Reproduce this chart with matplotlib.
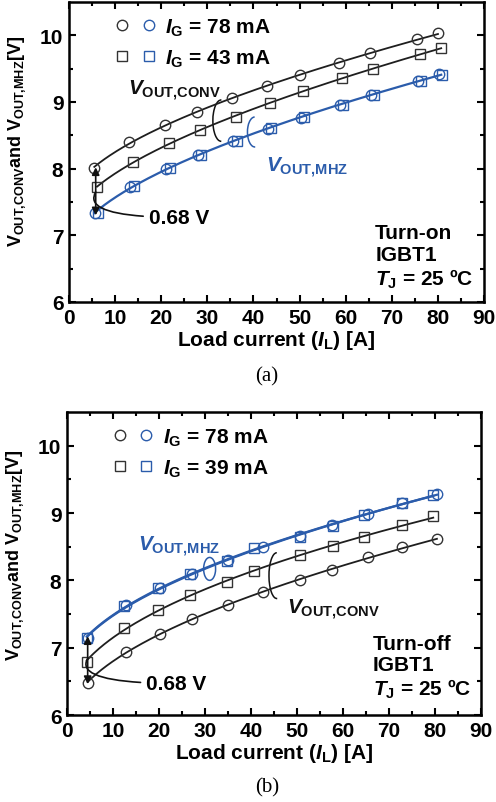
import numpy as np
import matplotlib
matplotlib.use('Agg')
from matplotlib import pyplot as plt
from matplotlib.patches import Arc
from matplotlib.legend_handler import HandlerTuple

plt.rcParams['font.family'] = 'Liberation Sans'
plt.rcParams['font.weight'] = 'bold'
plt.rcParams['mathtext.fontset'] = 'custom'
plt.rcParams['mathtext.rm'] = 'Liberation Sans:bold'
plt.rcParams['mathtext.it'] = 'Liberation Sans:italic:bold'
plt.rcParams['mathtext.bf'] = 'Liberation Sans:bold'

BLUE = '#2b5cab'
DARK = '#1e1e1e'
FS = 15

# (a) turn-on
on_il_78 = [5.5, 13.1, 20.8, 27.7, 35.3, 43.0, 50.1, 58.6, 65.3, 75.5, 80.0]
on_conv_78 = [8.01, 8.40, 8.65, 8.85, 9.06, 9.24, 9.40, 9.58, 9.73, 9.94, 10.03]
on_il_43 = [6.1, 13.9, 21.7, 28.4, 36.2, 43.6, 50.8, 59.2, 65.9, 76.1, 80.7]
on_conv_43 = [7.72, 8.10, 8.39, 8.58, 8.78, 8.98, 9.16, 9.36, 9.49, 9.72, 9.81]
on_mhz_78 = [7.33, 7.73, 8.00, 8.20, 8.41, 8.60, 8.76, 8.95, 9.10, 9.31, 9.42]
on_mhz_43 = [7.34, 7.74, 8.01, 8.21, 8.42, 8.61, 8.77, 8.96, 9.11, 9.32, 9.41]

# (b) turn-off
off_il_78 = [4.5, 12.8, 20.2, 27.2, 35.0, 42.6, 50.7, 57.6, 65.4, 72.8, 80.4]
off_conv_78 = [6.48, 6.94, 7.21, 7.42, 7.63, 7.83, 8.01, 8.16, 8.34, 8.49, 8.61]
off_il_39 = [4.3, 12.4, 19.8, 26.7, 34.7, 40.7, 50.6, 57.8, 64.6, 72.8, 79.6]
off_conv_39 = [6.79, 7.29, 7.56, 7.78, 7.98, 8.14, 8.37, 8.51, 8.64, 8.82, 8.95]
off_mhz_78 = [7.15, 7.63, 7.89, 8.09, 8.30, 8.49, 8.66, 8.82, 8.98, 9.15, 9.28]
off_mhz_39 = [7.14, 7.62, 7.89, 8.09, 8.29, 8.48, 8.65, 8.81, 8.97, 9.15, 9.27]


def fit(x, y):
    x = np.asarray(x, float)
    A = np.column_stack([np.ones_like(x), np.sqrt(x), x])
    c = np.linalg.lstsq(A, np.asarray(y, float), rcond=None)[0]
    xs = np.linspace(x.min(), x.max(), 200)
    return xs, c[0] + c[1] * np.sqrt(xs) + c[2] * xs


def series(ax, x, y, marker, color, offset=0.0, line=True):
    if line:
        xs, ys = fit(x, y)
        ax.plot(xs, ys, color=color, lw=1.3 if color == DARK else 1.6, zorder=2)
    h, = ax.plot(np.asarray(x) + offset, y, ls='none', marker=marker, ms=7.5 if marker == 'o' else 7,
                 mfc='none', mec=color if color == BLUE else '#333333', mew=1.0, zorder=3)
    return h


def style(ax, label_y):
    ax.set_xlim(0, 90)
    ax.set_ylim(6, 10.5)
    ax.set_xticks(range(0, 91, 10))
    ax.set_xticks(range(5, 90, 10), minor=True)
    ax.set_yticks([6, 7, 8, 9, 10])
    ax.set_yticks([6.5, 7.5, 8.5, 9.5], minor=True)
    ax.tick_params(which='both', direction='in', top=True, right=True, width=1.5,
                   labelsize=FS, pad=4)
    ax.tick_params(which='major', length=5)
    ax.tick_params(which='minor', length=3)
    for s in ax.spines.values():
        s.set_linewidth(1.8)
    ax.set_xlabel(r'Load current ($I_{\mathrm{L}}$) [A]', fontsize=FS, fontweight='bold', labelpad=1)
    ax.set_ylabel(r'$\mathrm{V}_{\mathrm{OUT{,}CONV}}$and $\mathrm{V}_{\mathrm{OUT{,}MHZ}}$[V]',
                  fontsize=13, fontweight='bold')
    ax.yaxis.set_label_coords(-0.098, label_y)


def legend(ax, hs, labels):
    ax.legend(hs, labels, handler_map={tuple: HandlerTuple(ndivide=None, pad=0.5)},
              loc='upper left', frameon=False, fontsize=FS, handlelength=2.0,
              handletextpad=0.4, labelspacing=0.45, borderaxespad=0.3,
              bbox_to_anchor=(0.075, 1.0))


fig = plt.figure(figsize=(4.96, 8.03), dpi=100)

# ---- (a)
ax1 = fig.add_axes([0.139, 0.6227, 0.837, 0.3736])
c1 = series(ax1, on_il_78, on_conv_78, 'o', DARK)
s1 = series(ax1, on_il_43, on_conv_43, 's', DARK)
xs, ys = fit(on_il_78 + on_il_43, on_mhz_78 + on_mhz_43)
ax1.plot(xs, ys, color=BLUE, lw=1.6, zorder=2)
c2 = series(ax1, on_il_78, on_mhz_78, 'o', BLUE, offset=0.2, line=False)
s2 = series(ax1, on_il_43, on_mhz_43, 's', BLUE, offset=0.2, line=False)
style(ax1, 0.54)
legend(ax1, [(c1, c2), (s1, s2)], [r'$I_{\mathrm{G}}$ = 78 mA', r'$I_{\mathrm{G}}$ = 43 mA'])

ax1.text(12.8, 9.18, r'$V_{\mathrm{OUT{,}CONV}}$', fontsize=FS, color='#111111', va='center')
ax1.add_patch(Arc((33.0, 8.72), 3.6, 0.62, theta1=80, theta2=275, color='#111111', lw=1.1))
ax1.text(42.8, 8.02, r'$V_{\mathrm{OUT{,}MHZ}}$', fontsize=FS, color=BLUE, va='center')
ax1.add_patch(Arc((40.3, 8.55), 3.2, 0.45, theta1=100, theta2=290, color=BLUE, lw=1.1))
ax1.annotate('', xy=(5.8, 7.30), xytext=(5.8, 8.02),
             arrowprops=dict(arrowstyle='<|-|>', color='#111111', lw=1.2, mutation_scale=11,
                             shrinkA=0, shrinkB=0))
ax1.annotate('0.68 V', xy=(5.8, 7.65), xytext=(17.3, 7.27), fontsize=FS, va='center',
             arrowprops=dict(arrowstyle='-', color='#111111', lw=1.2,
                             connectionstyle='angle3,angleA=0,angleB=60', shrinkA=2, shrinkB=0))
ax1.text(66.4, 7.18, 'Turn-on\nIGBT1\n' + r'$T_{\mathrm{J}}$ = 25 ºC', fontsize=FS,
         va='top', linespacing=1.15)
fig.text(0.538, 1 - 377 / 803, '(a)', fontsize=15, fontweight='normal', family='Liberation Serif',
         ha='center', va='center')

# ---- (b)
ax2 = fig.add_axes([0.135, 0.1083, 0.835, 0.3774])
c1 = series(ax2, off_il_78, off_conv_78, 'o', DARK)
s1 = series(ax2, off_il_39, off_conv_39, 's', DARK)
c2 = series(ax2, off_il_78, off_mhz_78, 'o', BLUE)
s2 = series(ax2, off_il_39, off_mhz_39, 's', BLUE)
style(ax2, 0.53)
legend(ax2, [(c1, c2), (s1, s2)], [r'$I_{\mathrm{G}}$ = 78 mA', r'$I_{\mathrm{G}}$ = 39 mA'])

ax2.text(15.5, 8.51, r'$V_{\mathrm{OUT{,}MHZ}}$', fontsize=FS, color=BLUE, va='center')
ax2.add_patch(Arc((31.0, 8.17), 2.6, 0.34, theta1=0, theta2=360, color=BLUE, lw=1.1))
ax2.text(47.8, 7.58, r'$V_{\mathrm{OUT{,}CONV}}$', fontsize=FS, color='#111111', va='center')
ax2.add_patch(Arc((45.6, 8.07), 3.4, 0.68, theta1=90, theta2=285, color='#111111', lw=1.1))
ax2.annotate('', xy=(4.5, 6.46), xytext=(4.5, 7.17),
             arrowprops=dict(arrowstyle='<|-|>', color='#111111', lw=1.2, mutation_scale=11,
                             shrinkA=0, shrinkB=0))
ax2.annotate('0.68 V', xy=(4.5, 6.84), xytext=(17.2, 6.47), fontsize=FS, va='center',
             arrowprops=dict(arrowstyle='-', color='#111111', lw=1.2,
                             connectionstyle='angle3,angleA=0,angleB=60', shrinkA=2, shrinkB=0))
ax2.text(66.5, 7.2, 'Turn-off\nIGBT1\n' + r'$T_{\mathrm{J}}$ = 25 ºC', fontsize=FS,
         va='top', linespacing=1.15)
fig.text(0.538, 1 - 788 / 803, '(b)', fontsize=15, fontweight='normal', family='Liberation Serif',
         ha='center', va='center')

fig.savefig('out.png', dpi=100)
